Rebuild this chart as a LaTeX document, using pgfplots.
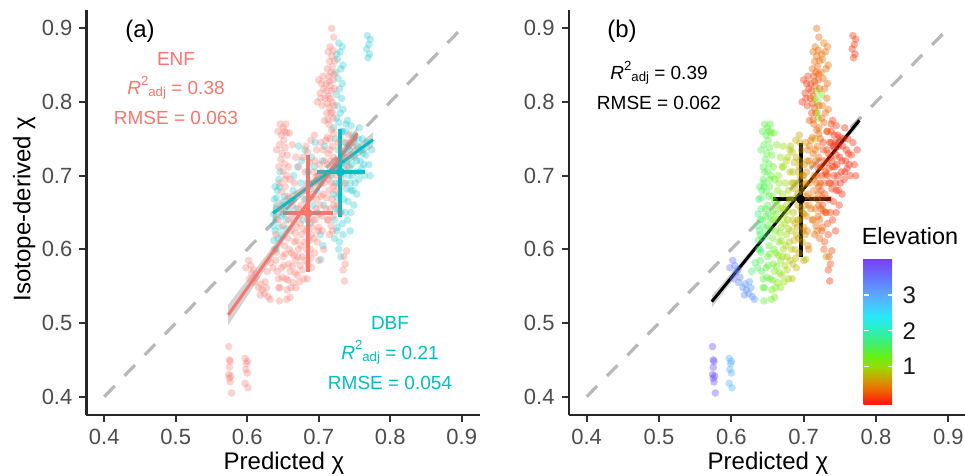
\documentclass[border=0pt]{standalone}
\usepackage{fontspec}
\setmainfont{Liberation Sans}
\usepackage{pgfplots}
\usepackage{pgfplotstable}
\pgfplotsset{compat=1.18}
\definecolor{enf}{HTML}{F8766D}
\definecolor{dbf}{HTML}{00BFC4}
\definecolor{axgray}{HTML}{4D4D4D}
\definecolor{refgray}{HTML}{B8B8B8}

\newcommand{\Radj}{\textit{R}\raisebox{0.52em}{\fontsize{6.6}{7}\selectfont 2}\raisebox{-0.1em}{\fontsize{6.6}{7}\selectfont adj}}

% x = predicted chi, y = isotope-derived chi, g = 0 ENF / 1 DBF, e = elevation (km)
\pgfplotstableread{
x y g e
0.574 0.468 0 3.85
0.575 0.450 0 3.80
0.576 0.448 0 3.80
0.575 0.440 0 3.82
0.577 0.428 0 3.78
0.574 0.430 0 3.85
0.575 0.425 0 3.80
0.576 0.420 0 3.80
0.578 0.405 0 3.75
0.597 0.452 0 2.90
0.600 0.448 0 2.90
0.599 0.445 0 2.88
0.598 0.437 0 2.92
0.600 0.432 0 2.90
0.597 0.418 0 2.88
0.601 0.412 0 2.90
0.598 0.575 0 3.40
0.602 0.585 0 3.40
0.605 0.578 0 3.35
0.606 0.568 0 3.35
0.603 0.560 0 3.40
0.609 0.572 0 3.30
0.610 0.555 0 3.30
0.612 0.562 0 3.30
0.616 0.548 0 3.20
0.619 0.553 0 3.20
0.621 0.545 0 3.20
0.624 0.540 0 3.15
0.627 0.548 0 3.15
0.629 0.536 0 3.15
0.632 0.532 0 3.10
0.618 0.538 0 3.20
0.625 0.556 0 3.15
0.628 0.570 0 1.65
0.633 0.582 0 1.60
0.646 0.770 0 1.45
0.650 0.765 0 1.40
0.652 0.760 0 1.45
0.648 0.755 0 1.50
0.655 0.758 0 1.40
0.651 0.748 0 1.45
0.645 0.742 0 1.50
0.653 0.738 0 1.40
0.649 0.730 0 1.45
0.656 0.728 0 1.35
0.647 0.722 0 1.50
0.652 0.716 0 1.40
0.658 0.712 0 1.35
0.650 0.706 0 1.45
0.655 0.700 0 1.40
0.660 0.695 0 1.30
0.645 0.690 0 1.50
0.653 0.685 0 1.40
0.648 0.678 0 1.45
0.657 0.672 0 1.35
0.638 0.600 0 1.60
0.640 0.585 0 1.55
0.642 0.570 0 1.50
0.644 0.560 0 1.45
0.646 0.548 0 1.40
0.648 0.575 0 1.45
0.650 0.590 0 1.40
0.652 0.605 0 1.40
0.654 0.560 0 1.35
0.656 0.545 0 1.30
0.658 0.580 0 1.30
0.660 0.570 0 1.25
0.662 0.595 0 1.20
0.664 0.555 0 1.10
0.666 0.610 0 1.15
0.668 0.585 0 1.05
0.670 0.565 0 1.00
0.672 0.600 0 1.00
0.674 0.578 0 0.95
0.676 0.620 0 0.95
0.661 0.625 0 1.25
0.657 0.615 0 1.30
0.665 0.640 0 1.15
0.669 0.630 0 1.05
0.673 0.645 0 0.95
0.677 0.590 0 0.90
0.680 0.610 0 0.85
0.683 0.625 0 0.85
0.679 0.560 0 0.90
0.668 0.548 0 1.05
0.660 0.535 0 1.20
0.655 0.532 0 1.30
0.645 0.530 0 1.40
0.640 0.620 0 1.55
0.643 0.640 0 1.50
0.650 0.632 0 1.45
0.647 0.655 0 1.45
0.663 0.660 0 1.15
0.671 0.675 0 1.00
0.666 0.690 0 1.10
0.636 0.575 0 1.55
0.641 0.596 0 1.50
0.644 0.548 0 1.45
0.649 0.562 0 1.40
0.651 0.578 0 1.40
0.653 0.594 0 1.35
0.657 0.558 0 1.30
0.659 0.600 0 1.30
0.661 0.548 0 1.25
0.663 0.577 0 1.20
0.665 0.592 0 1.15
0.667 0.568 0 1.10
0.669 0.612 0 1.05
0.671 0.590 0 1.00
0.673 0.556 0 1.00
0.675 0.605 0 0.95
0.677 0.572 0 0.90
0.679 0.628 0 0.90
0.681 0.585 0 0.85
0.683 0.600 0 0.85
0.685 0.640 0 0.80
0.687 0.612 0 0.80
0.689 0.588 0 0.75
0.691 0.630 0 0.70
0.693 0.615 0 0.70
0.695 0.640 0 0.65
0.697 0.668 0 0.60
0.699 0.625 0 0.60
0.701 0.648 0 0.55
0.703 0.672 0 0.50
0.658 0.640 0 1.30
0.662 0.648 0 1.20
0.667 0.622 0 1.10
0.671 0.655 0 1.00
0.674 0.635 0 0.95
0.678 0.652 0 0.90
0.682 0.668 0 0.85
0.688 0.682 0 0.75
0.692 0.675 0 0.70
0.696 0.698 0 0.65
0.700 0.688 0 0.55
0.704 0.705 0 0.50
0.708 0.720 0 0.45
0.706 0.735 0 0.45
0.710 0.748 0 0.40
0.694 0.755 0 0.65
0.689 0.748 0 0.75
0.684 0.732 0 0.80
0.672 0.712 0 1.00
0.668 0.725 0 1.05
0.663 0.742 0 1.15
0.659 0.758 0 1.30
0.654 0.770 0 1.40
0.643 0.760 0 1.50
0.641 0.735 0 1.50
0.644 0.712 0 1.50
0.653 0.695 0 1.40
0.685 0.580 0 0.80
0.688 0.600 0 0.75
0.690 0.620 0 0.70
0.692 0.640 0 0.70
0.694 0.595 0 0.65
0.696 0.655 0 0.65
0.698 0.610 0 0.60
0.700 0.630 0 0.55
0.702 0.660 0 0.50
0.704 0.645 0 0.50
0.706 0.675 0 0.45
0.708 0.690 0 0.45
0.686 0.650 0 0.80
0.689 0.670 0 0.75
0.691 0.690 0 0.70
0.693 0.705 0 0.70
0.695 0.720 0 0.65
0.697 0.735 0 0.60
0.699 0.700 0 0.60
0.684 0.690 0 0.80
0.681 0.705 0 0.85
0.687 0.718 0 0.75
0.678 0.725 0 0.90
0.682 0.740 0 0.85
0.701 0.715 0 0.55
0.703 0.745 0 0.50
0.705 0.625 0 0.50
0.707 0.600 0 0.45
0.710 0.655 0 0.40
0.712 0.640 0 0.40
0.684 0.560 0 0.80
0.690 0.575 0 0.75
0.700 0.585 0 0.60
0.676 0.660 0 0.90
0.679 0.680 0 0.90
0.718 0.900 0 0.35
0.716 0.875 0 0.40
0.720 0.870 0 0.30
0.718 0.862 0 0.35
0.715 0.855 0 0.40
0.719 0.848 0 0.30
0.717 0.840 0 0.20
0.714 0.835 0 0.25
0.720 0.830 0 0.20
0.716 0.822 0 0.30
0.718 0.815 0 1.20
0.713 0.808 0 0.30
0.719 0.800 0 1.25
0.715 0.792 0 0.20
0.717 0.785 0 0.25
0.720 0.778 0 1.15
0.714 0.770 0 0.30
0.718 0.762 0 0.35
0.716 0.750 0 0.80
0.719 0.740 0 0.40
0.713 0.730 0 0.35
0.717 0.720 0 0.30
0.720 0.710 0 0.25
0.715 0.700 0 0.35
0.718 0.690 0 0.30
0.714 0.680 0 0.40
0.719 0.668 0 0.30
0.716 0.655 0 0.35
0.720 0.645 0 0.25
0.717 0.632 0 0.30
0.715 0.620 0 0.35
0.721 0.888 0 0.35
0.713 0.868 0 0.40
0.722 0.856 0 0.30
0.712 0.845 0 0.35
0.721 0.838 0 0.20
0.715 0.828 0 0.25
0.722 0.818 0 0.30
0.711 0.815 0 0.15
0.716 0.805 0 1.20
0.721 0.795 0 0.25
0.712 0.798 0 0.20
0.719 0.786 0 1.10
0.713 0.776 0 0.30
0.721 0.757 0 0.35
0.712 0.752 0 0.40
0.716 0.735 0 0.35
0.712 0.715 0 0.40
0.721 0.725 0 0.30
0.713 0.695 0 0.40
0.721 0.685 0 0.25
0.711 0.670 0 0.40
0.721 0.660 0 0.30
0.713 0.640 0 0.40
0.719 0.625 0 0.35
0.700 0.830 0 0.10
0.704 0.825 0 0.10
0.707 0.818 0 0.08
0.702 0.812 0 0.10
0.709 0.805 0 0.12
0.705 0.795 0 0.10
0.711 0.785 0 0.15
0.708 0.775 0 0.20
0.698 0.800 0 0.10
0.703 0.805 0 0.12
0.706 0.835 0 0.10
0.710 0.825 0 0.10
0.735 0.590 0 0.15
0.737 0.580 0 0.20
0.734 0.572 0 0.20
0.736 0.557 0 0.10
0.739 0.598 0 0.20
0.725 0.700 0 0.10
0.728 0.720 0 0.08
0.732 0.735 0 0.05
0.738 0.745 0 0.05
0.742 0.755 0 0.05
0.745 0.728 0 0.05
0.748 0.740 0 0.05
0.740 0.712 0 0.08
0.735 0.690 0 0.10
0.724 0.680 0 0.15
0.726 0.660 0 0.15
0.730 0.650 0 0.20
0.723 0.712 0 0.12
0.727 0.745 0 0.08
0.731 0.702 0 0.10
0.737 0.725 0 0.06
0.744 0.745 0 0.05
0.750 0.752 0 0.05
0.637 0.612 1 1.70
0.639 0.625 1 1.65
0.640 0.640 1 1.60
0.641 0.655 1 1.60
0.638 0.668 1 1.65
0.642 0.680 1 1.55
0.644 0.695 1 1.55
0.646 0.705 1 1.50
0.640 0.600 1 1.80
0.643 0.615 1 1.70
0.645 0.630 1 1.60
0.648 0.645 1 1.55
0.650 0.660 1 1.50
0.652 0.672 1 1.45
0.637 0.648 1 1.75
0.639 0.685 1 1.60
0.655 0.640 1 1.45
0.658 0.652 1 1.40
0.636 0.632 1 1.75
0.641 0.670 1 1.60
0.645 0.685 1 1.55
0.648 0.620 1 1.55
0.651 0.648 1 1.50
0.654 0.628 1 1.45
0.660 0.665 1 1.30
0.664 0.680 1 1.20
0.665 0.700 1 1.10
0.670 0.712 1 1.00
0.675 0.690 1 0.95
0.680 0.668 1 0.85
0.685 0.705 1 0.80
0.690 0.725 1 0.70
0.695 0.745 1 0.65
0.672 0.740 1 1.00
0.668 0.655 1 1.05
0.678 0.640 1 0.90
0.688 0.635 1 0.75
0.692 0.660 1 0.70
0.697 0.680 1 0.60
0.703 0.586 1 0.90
0.700 0.700 1 0.55
0.705 0.720 1 0.50
0.707 0.660 1 0.45
0.676 0.720 1 0.95
0.681 0.735 1 0.85
0.686 0.690 1 0.80
0.694 0.712 1 0.65
0.698 0.650 1 0.60
0.703 0.690 1 0.50
0.708 0.740 1 0.45
0.702 0.620 1 0.55
0.706 0.605 1 0.50
0.722 0.640 1 0.30
0.724 0.655 1 0.25
0.726 0.670 1 0.25
0.728 0.690 1 0.20
0.730 0.705 1 0.20
0.732 0.718 1 0.15
0.734 0.730 1 0.15
0.736 0.745 1 0.10
0.738 0.760 1 0.10
0.740 0.775 1 0.10
0.742 0.700 1 0.08
0.744 0.690 1 0.08
0.746 0.715 1 0.05
0.748 0.680 1 0.05
0.750 0.725 1 0.05
0.752 0.705 1 0.05
0.754 0.740 1 0.05
0.756 0.695 1 0.05
0.758 0.720 1 0.05
0.760 0.710 1 0.05
0.762 0.730 1 0.05
0.764 0.700 1 0.05
0.768 0.745 1 0.05
0.772 0.700 1 0.05
0.725 0.625 1 0.25
0.729 0.610 1 0.20
0.733 0.635 1 0.15
0.737 0.650 1 0.12
0.741 0.665 1 0.10
0.745 0.650 1 0.10
0.749 0.660 1 0.08
0.753 0.675 1 0.05
0.731 0.590 1 0.60
0.727 0.735 1 0.20
0.723 0.750 1 0.25
0.721 0.765 1 0.30
0.739 0.682 1 0.10
0.735 0.710 1 0.12
0.743 0.735 1 0.08
0.747 0.755 1 0.05
0.757 0.765 1 0.05
0.761 0.750 1 0.05
0.718 0.700 1 0.30
0.720 0.675 1 0.30
0.723 0.690 1 0.25
0.725 0.712 1 0.20
0.727 0.652 1 0.25
0.729 0.675 1 0.20
0.731 0.650 1 0.20
0.733 0.700 1 0.15
0.735 0.668 1 0.12
0.737 0.690 1 0.10
0.739 0.720 1 0.10
0.741 0.740 1 0.08
0.743 0.712 1 0.08
0.745 0.680 1 0.06
0.747 0.700 1 0.05
0.749 0.745 1 0.05
0.751 0.690 1 0.05
0.753 0.720 1 0.05
0.755 0.750 1 0.05
0.757 0.705 1 0.05
0.759 0.735 1 0.05
0.763 0.715 1 0.05
0.766 0.728 1 0.05
0.770 0.715 1 0.05
0.774 0.735 1 0.05
0.726 0.630 1 0.25
0.734 0.620 1 0.15
0.740 0.640 1 0.10
0.744 0.625 1 0.10
0.722 0.615 1 0.30
0.728 0.600 1 0.25
0.738 0.770 1 0.10
0.732 0.760 1 0.15
0.745 0.768 1 0.08
0.728 0.880 1 0.40
0.730 0.868 1 0.35
0.726 0.858 1 0.45
0.731 0.845 1 0.40
0.727 0.832 1 0.30
0.729 0.818 1 0.35
0.732 0.805 1 0.30
0.726 0.795 1 0.40
0.730 0.785 1 0.35
0.728 0.772 1 0.30
0.733 0.760 1 0.25
0.733 0.875 1 0.40
0.725 0.865 1 0.45
0.734 0.850 1 0.35
0.724 0.840 1 0.40
0.733 0.825 1 0.30
0.725 0.810 1 1.20
0.734 0.790 1 0.35
0.725 0.778 1 0.30
0.768 0.890 1 0.12
0.772 0.885 1 0.10
0.770 0.878 1 0.12
0.767 0.872 1 0.10
0.771 0.865 1 0.10
0.769 0.860 1 0.12
}\pts

\pgfplotsset{
  chiaxis/.style={
    scale only axis, height=202.6pt,
    xmin=0.375, xmax=0.925, ymin=0.375, ymax=0.925,
    xtick={0.4,0.5,0.6,0.7,0.8,0.9}, ytick={0.4,0.5,0.6,0.7,0.8,0.9},
    axis x line*=bottom, axis y line*=left,
    axis line style={-, line width=1.1pt, color=black!85},
    tick align=outside, major tick length=3.5pt,
    tick style={line width=1.1pt, color=black!80},
    ticklabel style={font=\fontsize{11}{13}\selectfont, color=axgray},
    /pgf/number format/assume math mode=true,
  },
  pts/.style={only marks, mark=*, mark size=1.9pt},
  oneone/.style={refgray, line width=1.6pt, dash pattern=on 7.5pt off 7pt},
}

\begin{document}
\begin{tikzpicture}
\path[use as bounding box] (0,0) rectangle (482.5pt,238pt);

% ---------- panel (a)
\begin{axis}[chiaxis, at={(43.2pt,30.45pt)}, width=196.6pt]
\addplot[pts, mark options={draw opacity=0, fill=dbf, fill opacity=0.28}]
  table[x=x, y=y, restrict expr to domain={\thisrow{g}}{0.5:1.5}] {\pts};
\addplot[pts, mark options={draw opacity=0, fill=enf, fill opacity=0.32}]
  table[x=x, y=y, restrict expr to domain={\thisrow{g}}{-0.5:0.5}] {\pts};
\addplot[oneone] coordinates {(0.4,0.4) (0.9,0.9)};
% confidence bands
\addplot[draw=none, fill=gray, fill opacity=0.35] coordinates {
  (0.5734,0.525) (0.62,0.5837) (0.66,0.6343) (0.685,0.6674) (0.71,0.7026) (0.754,0.7667)
  (0.754,0.7487) (0.71,0.6926) (0.685,0.6594) (0.66,0.6243) (0.62,0.5657) (0.5734,0.497)} -- cycle;
\addplot[draw=none, fill=gray, fill opacity=0.35] coordinates {
  (0.636,0.661) (0.68,0.6864) (0.72,0.714) (0.776,0.759)
  (0.776,0.739) (0.72,0.704) (0.68,0.6744) (0.636,0.637)} -- cycle;
% regression lines
\addplot[enf, line width=1.5pt] coordinates {(0.5734,0.511) (0.754,0.7577)};
\addplot[dbf, line width=1.5pt] coordinates {(0.636,0.649) (0.776,0.749)};
% mean +/- sd crosses
\addplot[enf, line width=1.75pt] coordinates {(0.650,0.649) (0.720,0.649)};
\addplot[enf, line width=1.75pt] coordinates {(0.685,0.728) (0.685,0.569)};
\addplot[enf, only marks, mark=*, mark size=2pt] coordinates {(0.685,0.649)};
\addplot[dbf, line width=1.75pt] coordinates {(0.698,0.705) (0.765,0.705)};
\addplot[dbf, line width=1.75pt] coordinates {(0.730,0.764) (0.730,0.644)};
\addplot[dbf, only marks, mark=*, mark size=2pt] coordinates {(0.730,0.705)};
\end{axis}

% ---------- panel (b)
\begin{axis}[chiaxis, at={(284.3pt,30.45pt)}, width=198.9pt,
  colormap={elev}{rgb255(0pt)=(255,25,20); rgb255(6pt)=(255,30,15); rgb255(36pt)=(240,95,0);
    rgb255(66pt)=(212,152,0); rgb255(106pt)=(150,222,0); rgb255(136pt)=(100,240,25);
    rgb255(176pt)=(60,240,120); rgb255(216pt)=(40,240,200); rgb255(246pt)=(40,232,250);
    rgb255(296pt)=(85,180,255); rgb255(346pt)=(100,125,255); rgb255(410pt)=(120,60,245)},
  point meta min=-0.06, point meta max=4.04,
  colorbar,
  colorbar style={
    at={(parent axis.south west)}, anchor=south west, xshift=139pt, yshift=5.5pt,
    scale only axis, width=14.5pt, height=73pt,
    ytick={1,2,3}, yticklabel pos=right, ytick pos=both,
    tick align=inside, major tick length=2.5pt,
    tick style={white, line width=0.7pt},
    axis line style={draw=none},
    yticklabel style={font=\fontsize{12}{14}\selectfont, color=black!90, xshift=1.5pt},
    /pgf/number format/assume math mode=true,
  },
]
\addplot[scatter, pts, point meta=\thisrow{e},
  scatter/use mapped color={draw opacity=0, fill=mapped color, fill opacity=0.4}]
  table[x=x, y=y] {\pts};
\addplot[oneone] coordinates {(0.4,0.4) (0.9,0.9)};
\addplot[draw=none, fill=gray, fill opacity=0.35] coordinates {
  (0.573,0.537) (0.62,0.5907) (0.67,0.649) (0.70,0.6852) (0.73,0.7213) (0.777,0.781)
  (0.777,0.769) (0.73,0.7153) (0.70,0.6792) (0.67,0.643) (0.62,0.5807) (0.573,0.521)} -- cycle;
\addplot[black, line width=1.5pt] coordinates {(0.573,0.529) (0.777,0.775)};
\addplot[black, line width=1.75pt] coordinates {(0.658,0.668) (0.738,0.668)};
\addplot[black, line width=1.75pt] coordinates {(0.696,0.744) (0.696,0.590)};
\addplot[black, only marks, mark=*, mark size=2pt] coordinates {(0.696,0.668)};
\end{axis}

% ---------- texts
\node[anchor=base, font=\fontsize{12}{14}\selectfont] at (70pt,219.3pt) {(a)};
\node[anchor=base, font=\fontsize{12}{14}\selectfont] at (311pt,219.3pt) {(b)};
\node[anchor=base, font=\fontsize{9.5}{11}\selectfont, text=enf] at (88pt,205.2pt) {ENF};
\node[anchor=base, font=\fontsize{9.5}{11}\selectfont, text=enf] at (88pt,190.5pt) {\Radj\ = 0.38};
\node[anchor=base, font=\fontsize{9.5}{11}\selectfont, text=enf] at (88pt,175.8pt) {RMSE = 0.063};
\node[anchor=base, font=\fontsize{9.5}{11}\selectfont, text=dbf] at (195pt,73pt) {DBF};
\node[anchor=base, font=\fontsize{9.5}{11}\selectfont, text=dbf] at (195pt,58.3pt) {\Radj\ = 0.21};
\node[anchor=base, font=\fontsize{9.5}{11}\selectfont, text=dbf] at (195pt,43.3pt) {RMSE = 0.054};
\node[anchor=base, font=\fontsize{9.5}{11}\selectfont] at (329.5pt,198pt) {\Radj\ = 0.39};
\node[anchor=base, font=\fontsize{9.5}{11}\selectfont] at (329.5pt,183pt) {RMSE = 0.062};
\node[anchor=base, font=\fontsize{11.7}{13}\selectfont] at (455pt,115.8pt) {Elevation};
\node[anchor=base, font=\fontsize{12}{14}\selectfont] at (142pt,3pt) {Predicted χ};
\node[anchor=base, font=\fontsize{12}{14}\selectfont] at (384pt,3pt) {Predicted χ};
\node[anchor=base, rotate=90, font=\fontsize{12}{14}\selectfont] at (15.2pt,133.5pt) {Isotope-derived χ};
\end{tikzpicture}
\end{document}
